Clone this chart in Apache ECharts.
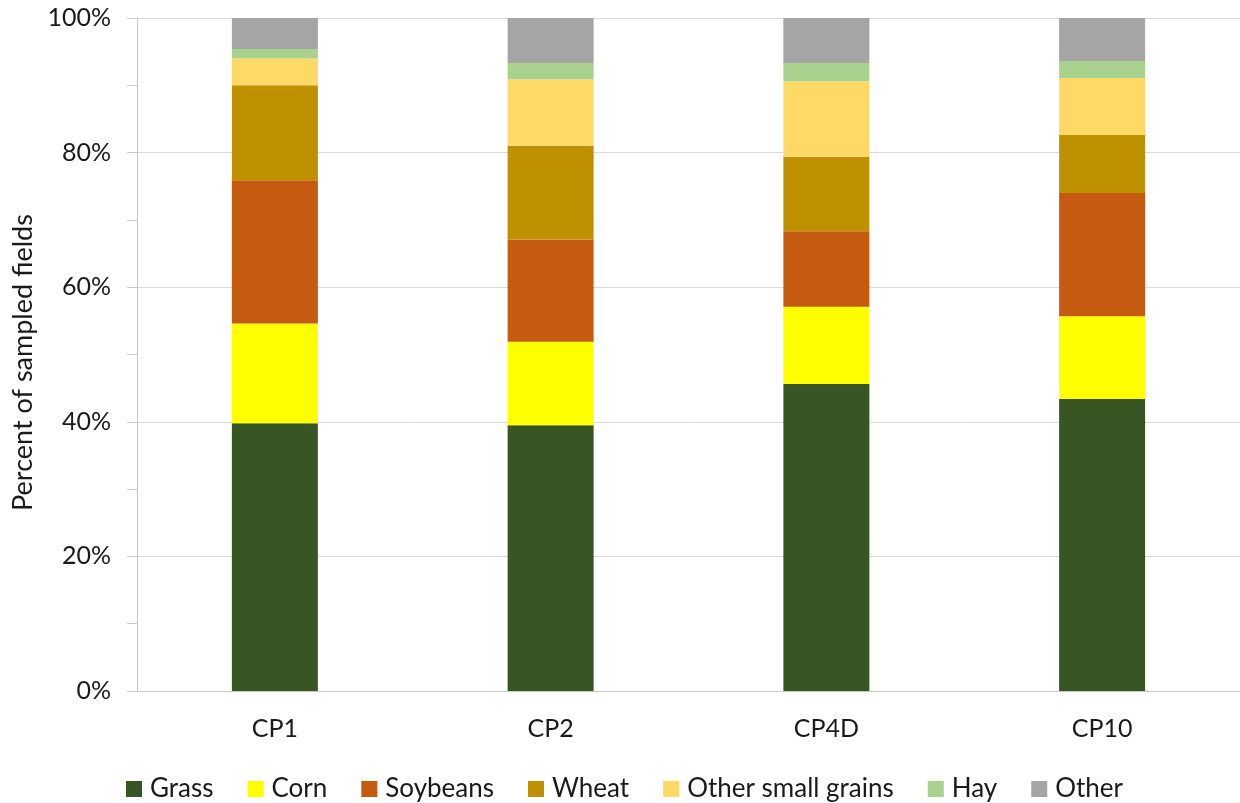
<!DOCTYPE html>
<html>
<head>
<meta charset="utf-8">
<script src="https://cdn.jsdelivr.net/npm/echarts@6/dist/echarts.min.js"></script>
<style>
  html, body { margin: 0; padding: 0; background: #ffffff; }
  #chart { width: 1240px; height: 803px; }
</style>
</head>
<body>
<div id="chart"></div>
<script>
// Share of sampled fields by crop type, per sampling site
const categories = ['CP1', 'CP2', 'CP4D', 'CP10'];
const grass            = [39.8, 39.5, 45.6, 43.4];
const corn             = [14.8, 12.4, 11.5, 12.3];
const soybeans         = [21.3, 15.2, 11.2, 18.3];
const wheat            = [14.1, 13.9, 11.1, 8.6];
const otherSmallGrains = [4.0, 9.9, 11.2, 8.5];
const hay              = [1.4, 2.4, 2.7, 2.5];
const other            = [4.6, 6.7, 6.7, 6.4];
const yTicks = [0, 20, 40, 60, 80, 100];

const FONT = 'Lato, "Open Sans", sans-serif';
const TEXT = '#1a1a1a';

const seriesDefs = [
  { name: 'Grass', data: grass, color: '#375623' },
  { name: 'Corn', data: corn, color: '#FFFF00' },
  { name: 'Soybeans', data: soybeans, color: '#C55A11' },
  { name: 'Wheat', data: wheat, color: '#BF9000' },
  { name: 'Other small grains', data: otherSmallGrains, color: '#FFD966' },
  { name: 'Hay', data: hay, color: '#A9D18E' },
  { name: 'Other', data: other, color: '#A5A5A5' }
];

const chart = echarts.init(document.getElementById('chart'), null, { renderer: 'canvas' });

chart.setOption({
  animation: false,
  backgroundColor: '#ffffff',
  textStyle: { fontFamily: FONT },
  grid: { left: 137, top: 18, width: 1105, height: 673, containLabel: false },
  legend: {
    left: 121,
    top: 771,
    itemWidth: 16,
    itemHeight: 16,
    itemGap: 34,
    icon: 'rect',
    textStyle: { fontFamily: FONT, fontSize: 26, color: TEXT, padding: [0, 0, 0, 3] },
    data: seriesDefs.map(s => s.name)
  },
  xAxis: {
    type: 'category',
    data: categories,
    axisLine: { show: true, lineStyle: { color: '#C8C8C8', width: 1 } },
    axisTick: { show: false },
    axisLabel: { fontFamily: FONT, fontSize: 25, color: TEXT, margin: 25 },
    splitLine: { show: false }
  },
  yAxis: {
    type: 'value',
    min: yTicks[0],
    max: yTicks[yTicks.length - 1],
    interval: yTicks[1] - yTicks[0],
    name: 'Percent of sampled fields',
    nameLocation: 'middle',
    nameGap: 100,
    nameTextStyle: { fontFamily: FONT, fontSize: 27, color: TEXT, padding: [0, 16, 0, 0] },
    axisLine: { show: true, lineStyle: { color: '#C8C8C8', width: 1 } },
    axisTick: { show: true, length: 10, lineStyle: { color: '#C8C8C8' } },
    minorTick: { show: true, splitNumber: 2, length: 10, lineStyle: { color: '#C8C8C8' } },
    axisLabel: { fontFamily: FONT, fontSize: 25, color: TEXT, margin: 26, formatter: v => v + '%' },
    splitLine: { show: true, lineStyle: { color: '#D9D9D9', width: 1 } }
  },
  series: seriesDefs.map(s => ({
    name: s.name,
    type: 'bar',
    stack: 'total',
    barWidth: 86,
    data: s.data,
    itemStyle: { color: s.color },
    emphasis: { disabled: true }
  }))
});
</script>
</body>
</html>
